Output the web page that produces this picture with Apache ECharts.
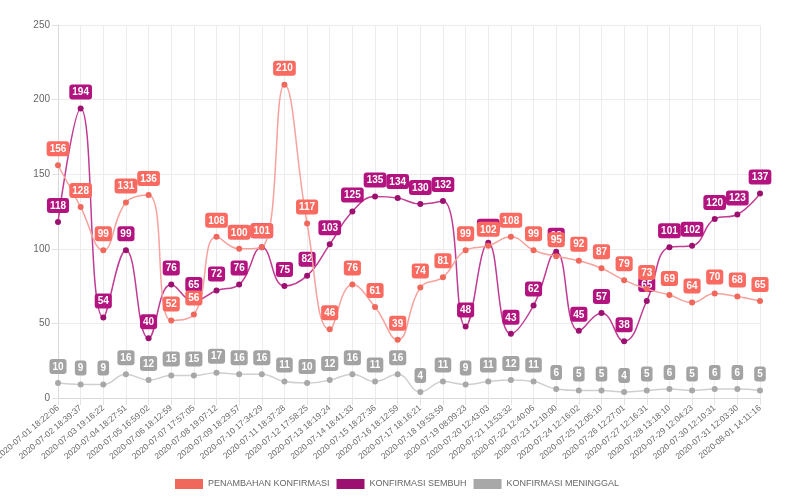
<!DOCTYPE html>
<html><head><meta charset="utf-8">
<script src="https://cdn.jsdelivr.net/npm/echarts@6/dist/echarts.min.js"></script>
<style>html,body{margin:0;padding:0;background:#fff}#c{width:800px;height:500px}</style>
</head><body><div id="c"></div>
<script>
var categories = ["2020-07-01 18:22:06","2020-07-02 18:39:37","2020-07-03 19:16:22","2020-07-04 18:27:51","2020-07-05 16:59:02","2020-07-06 18:12:59","2020-07-07 17:57:05","2020-07-08 19:07:12","2020-07-09 18:29:57","2020-07-10 17:34:29","2020-07-11 18:37:28","2020-07-12 17:58:25","2020-07-13 18:19:24","2020-07-14 18:41:33","2020-07-15 18:27:36","2020-07-16 18:12:59","2020-07-17 18:16:21","2020-07-18 19:53:59","2020-07-19 08:09:23","2020-07-20 12:43:03","2020-07-21 13:53:32","2020-07-22 12:40:06","2020-07-23 12:10:00","2020-07-24 12:16:02","2020-07-25 12:05:10","2020-07-26 12:27:01","2020-07-27 12:16:31","2020-07-28 13:18:10","2020-07-29 12:04:23","2020-07-30 12:10:31","2020-07-31 12:03:30","2020-08-01 14:11:16"];
var penambahan = [156,128,99,131,136,52,56,108,100,101,210,117,46,76,61,39,74,81,99,102,108,99,95,92,87,79,73,69,64,70,68,65];
var sembuh = [118,194,54,99,40,76,65,72,76,101,75,82,103,125,135,134,130,132,48,104,43,62,98,45,57,38,65,101,102,120,123,137];
var meninggal = [10,9,9,16,12,15,15,17,16,16,11,10,12,16,11,16,4,11,9,11,12,11,6,5,5,4,5,6,5,6,6,5];
var seriesNames = ["PENAMBAHAN KONFIRMASI","KONFIRMASI SEMBUH","KONFIRMASI MENINGGAL"];
var yTicks = {min:0, max:250, interval:50};

var font = "'Liberation Sans', Arial, sans-serif";
function mk(name, data, lineColor, dotColor, boxColor, z) {
  return {
    name: name, type: 'line', data: data, smooth: 0.45, z: z,
    symbol: 'circle', symbolSize: 6,
    lineStyle: {color: lineColor, width: 1.5},
    itemStyle: {color: dotColor},
    label: {
      show: true, position: 'top', distance: 6,
      backgroundColor: boxColor, color: '#fff', fontWeight: 'bold',
      fontSize: 10, fontFamily: font, borderRadius: 3, padding: [3, 3, 2, 3]
    },
    emphasis: {disabled: true}
  };
}
var chart = echarts.init(document.getElementById('c'), null, {renderer: 'canvas'});
chart.setOption({
  animation: false,
  color: ['#fa6a60', '#b3137f', '#a3a3a3'],
  grid: {left: 58, right: 40, top: 25, bottom: 102, containLabel: false, outerBoundsMode: 'none'},
  legend: {
    left: 170, top: 474, itemWidth: 28, itemHeight: 10, itemGap: 7,
    icon: 'rect',
    textStyle: {color: '#666', fontSize: 9, fontFamily: font},
    data: seriesNames
  },
  xAxis: {
    type: 'category', data: categories, boundaryGap: false,
    axisLine: {lineStyle: {color: '#d9d9d9'}},
    axisTick: {show: true, length: 7, lineStyle: {color: '#e2e2e2'}},
    splitLine: {show: true, lineStyle: {color: '#ececec'}},
    axisLabel: {rotate: 40, color: '#666', fontSize: 8.5, fontFamily: font, margin: 9, interval: 0}
  },
  yAxis: {
    type: 'value', min: yTicks.min, max: yTicks.max, interval: yTicks.interval,
    axisLine: {show: true, lineStyle: {color: '#d9d9d9'}},
    axisTick: {show: true, length: 6, lineStyle: {color: '#e2e2e2'}},
    splitLine: {show: true, lineStyle: {color: '#ececec'}},
    axisLabel: {color: '#666', fontSize: 10, fontFamily: font, margin: 8}
  },
  series: [
    mk(seriesNames[2], meninggal, '#cfcfcf', '#a8a8a8', '#a3a3a3', 2),
    mk(seriesNames[1], sembuh, '#c13a93', '#9c1070', '#b3137f', 3),
    mk(seriesNames[0], penambahan, '#f7a29c', '#f0675c', '#fa6a60', 4)
  ]
});
</script></body></html>
